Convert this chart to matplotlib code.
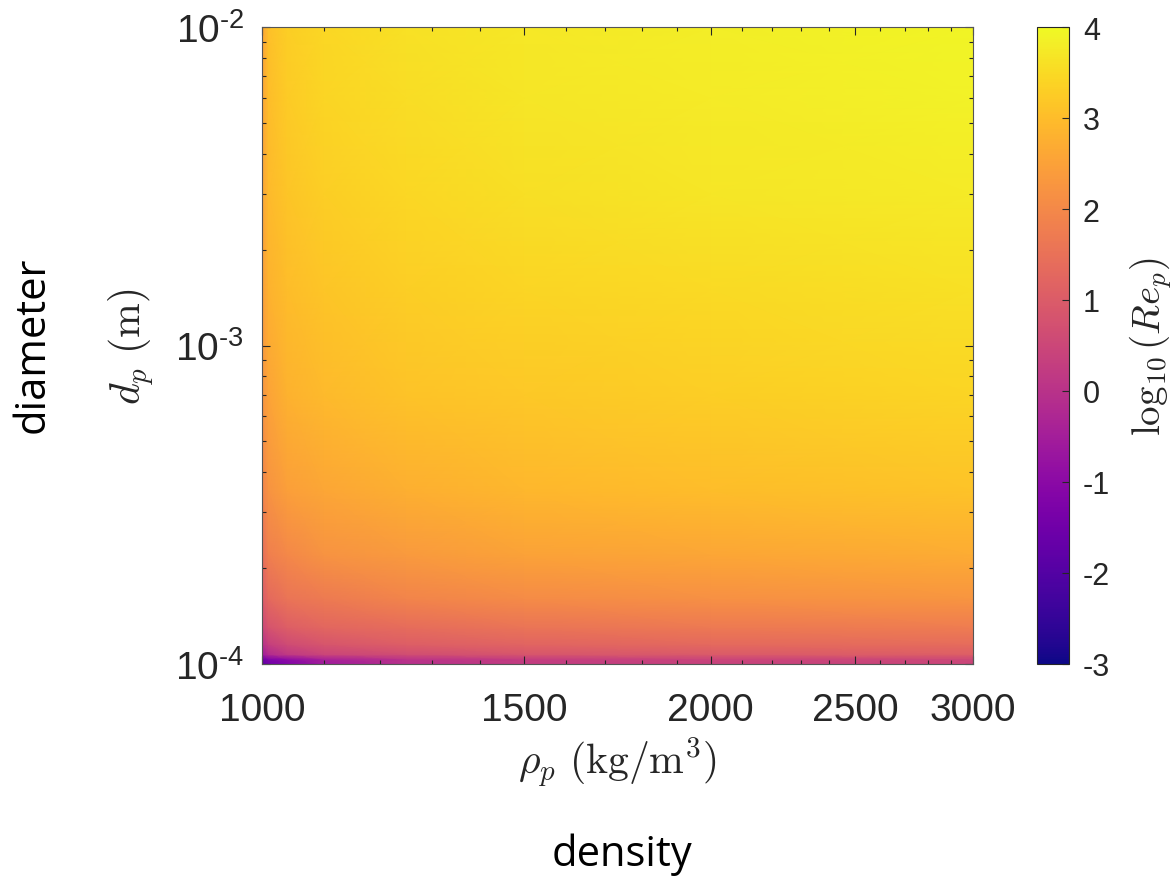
import matplotlib
matplotlib.use("Agg")
import matplotlib.pyplot as plt
from matplotlib import ticker
import numpy as np

plt.rcParams['font.family'] = ['Liberation Sans', 'DejaVu Sans']
plt.rcParams['mathtext.fontset'] = 'cm'

# particle density (kg/m^3) and diameter (m) sample points
rho_p = [1000, 1010, 1040, 1100, 1250, 1500, 2000, 3000]
d_p = [1.0e-4, 1.035e-4, 1.07e-4, 1.15e-4, 1.3e-4, 1.6e-4, 2.2e-4, 3.5e-4,
       7e-4, 1.5e-3, 3e-3, 6e-3, 1e-2]

# log10(Re_p), one row per diameter, one column per density
log_re = [
    [-1.80, -1.50, -1.20, -0.60, -0.10, 0.20, 0.35, 0.45],
    [-1.50, -1.20, -0.90, -0.40, 0.05, 0.30, 0.45, 0.55],
    [-0.60, -0.20, 0.15, 0.45, 0.65, 0.85, 0.95, 1.05],
    [-0.10, 0.30, 0.60, 0.85, 1.05, 1.20, 1.30, 1.40],
    [0.45, 0.80, 1.05, 1.25, 1.40, 1.55, 1.65, 1.75],
    [0.95, 1.30, 1.55, 1.70, 1.90, 2.05, 2.15, 2.25],
    [1.40, 1.80, 2.00, 2.20, 2.35, 2.50, 2.60, 2.70],
    [1.85, 2.20, 2.45, 2.60, 2.75, 2.90, 3.00, 3.10],
    [2.20, 2.55, 2.80, 2.95, 3.10, 3.20, 3.30, 3.40],
    [2.40, 2.80, 3.00, 3.15, 3.30, 3.40, 3.50, 3.60],
    [2.50, 2.95, 3.15, 3.30, 3.45, 3.58, 3.68, 3.78],
    [2.55, 3.00, 3.25, 3.40, 3.55, 3.68, 3.78, 3.88],
    [2.55, 3.05, 3.30, 3.45, 3.60, 3.72, 3.82, 3.93],
]

x_ticks = [1000, 1500, 2000, 2500, 3000]
y_ticks = [1e-4, 1e-3, 1e-2]
y_ticklabels = ['$\\mathregular{10^{\u2010 4}}$', '$\\mathregular{10^{\u2010 3}}$',
                '$\\mathregular{10^{\u2010 2}}$']
cb_ticks = [-3, -2, -1, 0, 1, 2, 3, 4]

W, H = 1174, 878
fig = plt.figure(figsize=(W / 100, H / 100), dpi=100)

def box(x0, y0, x1, y1):
    return [x0 / W, 1 - y1 / H, (x1 - x0) / W, (y1 - y0) / H]

ax = fig.add_axes(box(262, 28, 973, 665))
cax = fig.add_axes(box(1037, 28, 1069, 665))

RR, DD = np.meshgrid(rho_p, d_p)
mesh = ax.pcolormesh(RR, DD, np.array(log_re), shading='gouraud',
                     cmap='plasma', vmin=-3, vmax=4, rasterized=True)

ax.set_xscale('log')
ax.set_yscale('log')
ax.set_xlim(1000, 3000)
ax.set_ylim(1e-4, 1e-2)

edge = '#262626'
ax.xaxis.set_major_locator(ticker.FixedLocator(x_ticks))
ax.xaxis.set_major_formatter(ticker.FixedFormatter([str(t) for t in x_ticks]))
ax.xaxis.set_minor_locator(ticker.FixedLocator(
    [v for v in range(1100, 3000, 100) if v not in x_ticks]))
ax.xaxis.set_minor_formatter(ticker.NullFormatter())
ax.yaxis.set_major_locator(ticker.FixedLocator(y_ticks))
ax.yaxis.set_major_formatter(ticker.FixedFormatter(y_ticklabels))
ax.yaxis.set_minor_locator(ticker.LogLocator(base=10, subs=range(2, 10)))
ax.yaxis.set_minor_formatter(ticker.NullFormatter())

ax.tick_params(which='both', direction='in', top=True, right=True,
               color=edge, width=0.8, labelcolor=edge, labelsize=28)
ax.tick_params(which='major', length=6)
ax.tick_params(which='minor', length=3)
ax.tick_params(axis='x', which='major', pad=20)
ax.tick_params(axis='y', which='major', pad=13)
for s in ax.spines.values():
    s.set_color('#555555')
    s.set_linewidth(0.8)

ax.set_xlabel(r'$\rho_p\ (\mathrm{kg/m^3})$', fontsize=30, color=edge)
ax.xaxis.set_label_coords(0.5, -0.154)
ax.xaxis.label.set_va('center')
ax.set_ylabel(r'$d_p\ (\mathrm{m})$', fontsize=30, color=edge)
ax.yaxis.set_label_coords(-0.184, 0.5)
ax.yaxis.label.set_va('center')

cb = fig.colorbar(mesh, cax=cax, ticks=cb_ticks)
cb.ax.tick_params(direction='in', length=5, width=0.8, color=edge,
                  labelcolor=edge, labelsize=22, pad=10)
cb.outline.set_edgecolor(edge)
cb.outline.set_linewidth(0.8)
cb.ax.set_yticklabels([str(t) for t in cb_ticks])
cb.set_label(r'$\log_{10}(Re_p)$', fontsize=28, color=edge)
cb.ax.yaxis.set_label_coords(3.55, 0.5)
cb.ax.yaxis.label.set_va('center')

fig.text(33 / W, 1 - 345 / H, 'diameter', rotation=90, ha='center', va='center',
         fontsize=30, family='Open Sans', color='black')
fig.text(622 / W, 1 - 855 / H, 'density', ha='center', va='center',
         fontsize=30, family='Open Sans', color='black')

fig.savefig('out.png', dpi=100)
